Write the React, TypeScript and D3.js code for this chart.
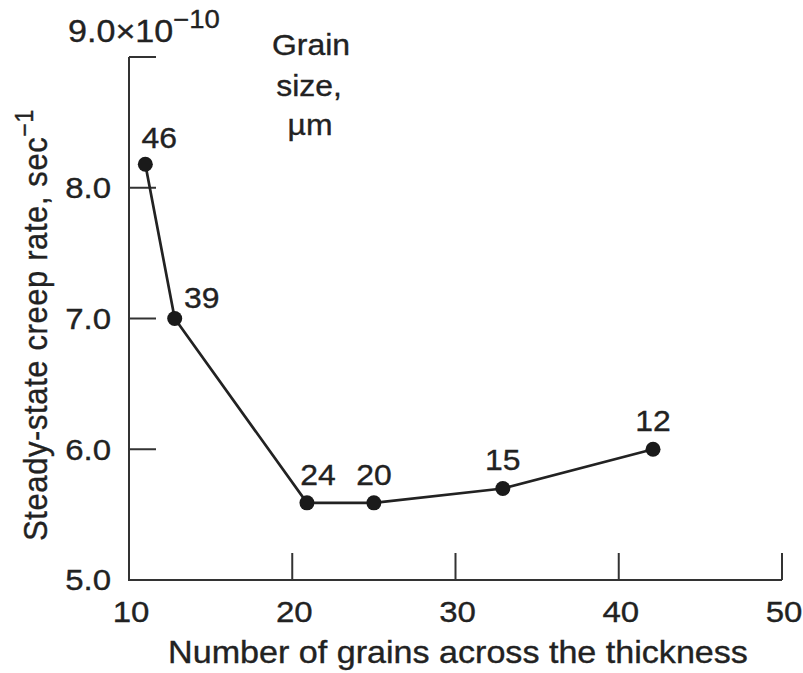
import React, { useEffect, useRef } from 'react';
import * as d3 from 'd3';

// grains across the thickness vs steady-state creep rate (x 1e-10 /sec)
const grainsAcross = [11, 12.8, 20.9, 25, 32.9, 42.1];
const creepRate = [8.18, 7.0, 5.59, 5.59, 5.7, 6.0];
const grainSizeLabels = ['46', '39', '24', '20', '15', '12'];

const xTicks = [10, 20, 30, 40, 50];
const yTicks = [5, 6, 7, 8, 9];

const WIDTH = 803;
const HEIGHT = 673;
const FONT = '"Liberation Sans", Arial, Helvetica, sans-serif';
const INK = '#222';
const STRETCH = 1.1; // printed type is a bit wider than Arial

type Sel = d3.Selection<any, any, any, any>;

function putText(parent: Sel, x: number, y: number, anchor = 'middle') {
  return parent
    .append('text')
    .attr('transform', `translate(${x},${y}) scale(${STRETCH},1)`)
    .attr('text-anchor', anchor);
}

function CreepChart() {
  const ref = useRef<SVGSVGElement | null>(null);

  useEffect(() => {
    drawChart();
  }, []);

  function drawChart() {
    const svg = d3.select(ref.current);
    svg.selectAll('*').remove();

    const xScale = d3.scaleLinear().domain([10, 50]).range([129, 782]);
    const yScale = d3.scaleLinear().domain([5, 9]).range([580, 57]);
    const tickLen = 27;

    const axes = svg.append('g').attr('stroke', '#333').attr('stroke-width', 2).attr('fill', 'none');

    // left + bottom frame
    axes
      .append('path')
      .attr('d', `M${xScale(10)},${yScale(9)}V${yScale(5)}H${xScale(50)}`);

    // inward ticks
    yTicks
      .filter(t => t > 5)
      .forEach(t => {
        axes
          .append('line')
          .attr('x1', xScale(10))
          .attr('x2', xScale(10) + tickLen)
          .attr('y1', yScale(t))
          .attr('y2', yScale(t));
      });
    xTicks
      .filter(t => t > 10)
      .forEach(t => {
        axes
          .append('line')
          .attr('x1', xScale(t))
          .attr('x2', xScale(t))
          .attr('y1', yScale(5))
          .attr('y2', yScale(5) - tickLen);
      });

    const text = svg
      .append('g')
      .attr('font-family', FONT)
      .attr('fill', INK)
      .attr('stroke', INK)
      .attr('stroke-width', 0.35)
      .attr('font-size', 29);

    // y tick labels (top one carries the exponent)
    yTicks.forEach(t => {
      if (t === 9) {
        const top = putText(text, 68, 42, 'start').attr('font-size', 31);
        top.append('tspan').text('9.0\u00d710');
        top.append('tspan').attr('dy', -14).attr('font-size', 25).text('\u221210');
      } else {
        putText(text, 111, yScale(t), 'end')
          .attr('font-size', 30)
          .attr('dominant-baseline', 'central')
          .text(d3.format('.1f')(t));
      }
    });

    xTicks.forEach(t => {
      putText(text, xScale(t) + 2, 622).attr('font-size', 30).text(t);
    });

    // axis titles
    putText(text, 458, 663).attr('font-size', 31).text('Number of grains across the thickness');

    const yTitle = text
      .append('text')
      .attr('transform', `translate(47,541) rotate(-90) scale(1,${STRETCH})`)
      .attr('font-size', 31)
      .attr('letter-spacing', 0.6);
    yTitle.append('tspan').text('Steady-state creep rate, sec');
    yTitle.append('tspan').attr('dy', -13).attr('font-size', 23).text('\u22121');

    // grain size note
    putText(text, 311, 55).text('Grain');
    putText(text, 309, 96).text('size,');
    putText(text, 310, 135).text('\u00b5m');

    // data
    const pts = grainsAcross.map((g, i) => ({ x: g, y: creepRate[i], label: grainSizeLabels[i] }));

    const line = d3
      .line<{ x: number; y: number }>()
      .x(d => xScale(d.x))
      .y(d => yScale(d.y));

    svg
      .append('path')
      .datum(pts)
      .attr('d', line)
      .attr('fill', 'none')
      .attr('stroke', '#222')
      .attr('stroke-width', 2.7);

    svg
      .append('g')
      .selectAll('circle')
      .data(pts)
      .join('circle')
      .attr('cx', d => xScale(d.x))
      .attr('cy', d => yScale(d.y))
      .attr('r', 7.5)
      .attr('fill', '#1a1a1a');

    // label nudges (px) so they sit like the printed figure
    const nudge: Record<string, [number, number]> = {
      '46': [14, -16],
      '39': [27, -11],
      '24': [11, -18],
    };
    pts.forEach(d => {
      const [dx, dy] = nudge[d.label] ?? [0, -18];
      putText(text, xScale(d.x) + dx, yScale(d.y) + dy).text(d.label);
    });
  }

  return (
    <svg
      ref={ref}
      width={WIDTH}
      height={HEIGHT}
      style={{ position: 'absolute', left: 0, top: 0, background: '#fff' }}
    />
  );
}

export default function App() {
  return <CreepChart />;
}
